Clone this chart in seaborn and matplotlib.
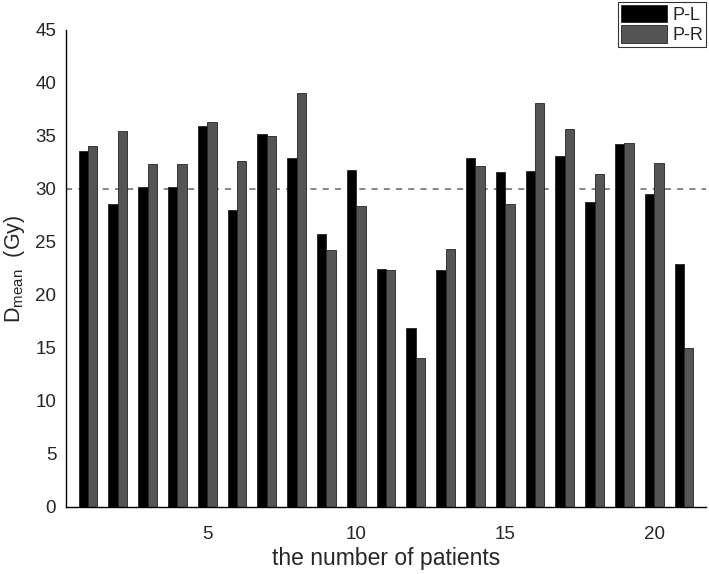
import pandas as pd
import numpy as np
import matplotlib.pyplot as plt
import seaborn as sns

patients = list(range(1, 22))
p_left = [33.6, 28.6, 30.2, 30.2, 35.9, 28.0, 35.2, 32.9, 25.7, 31.8, 22.4,
          16.9, 22.3, 32.9, 31.6, 31.7, 33.1, 28.8, 34.2, 29.5, 22.9]
p_right = [34.0, 35.5, 32.3, 32.3, 36.3, 32.6, 35.0, 39.0, 24.2, 28.4, 22.3,
           14.0, 24.3, 32.2, 28.6, 38.1, 35.6, 31.4, 34.3, 32.4, 15.0]
xtick_labels = ['5', '10', '15', '20']

dados = pd.DataFrame({
    'patient': patients * 2,
    'Dmean': p_left + p_right,
    'side': ['P-L'] * len(patients) + ['P-R'] * len(patients),
})

sns.set_style('white')
plt.rcParams['font.family'] = ['Liberation Sans', 'DejaVu Sans']

fig = plt.figure(figsize=(7.09, 5.74), dpi=100)
ax = fig.add_axes([0.093, 0.117, 0.903, 0.831])
sns.barplot(data=dados, x='patient', y='Dmean', hue='side',
            palette={'P-L': 'black', 'P-R': '#555555'},
            width=0.63, edgecolor='#222222', linewidth=0.6, ax=ax)

ax.axhline(30, color='#666666', linestyle=(0, (4, 4)), linewidth=1.1, zorder=0.5)

ax.set_ylim(0, 45)
ax.set_xlim(-0.74, 20.74)
ax.set_yticks(range(0, 46, 5))
ax.set_xticks([4, 9, 14, 19])
ax.set_xticklabels(xtick_labels)
ax.tick_params(axis='y', length=0, labelsize=13.5, pad=7)
ax.tick_params(axis='x', length=0, labelsize=13.5, pad=14)
ax.set_xlabel('the number of patients', fontsize=16.5, labelpad=3)
ax.set_ylabel('D$_{\\mathregular{mean}}$  (Gy)', fontsize=15.5, labelpad=6)

sns.despine(ax=ax)
for s in ['left', 'bottom']:
    ax.spines[s].set_color('black')
    ax.spines[s].set_linewidth(1.0)

ax.get_legend().remove()
handles, labels = ax.get_legend_handles_labels()
leg = fig.legend(handles, labels, loc='upper right', bbox_to_anchor=(0.999, 1.0),
                 fontsize=13, frameon=True, fancybox=False, edgecolor='black',
                 handlelength=2.6, handleheight=1.15, labelspacing=0.1,
                 borderpad=0.15, handletextpad=0.3, borderaxespad=0.1)
leg.get_frame().set_linewidth(0.8)

plt.savefig('out.png', dpi=100)
